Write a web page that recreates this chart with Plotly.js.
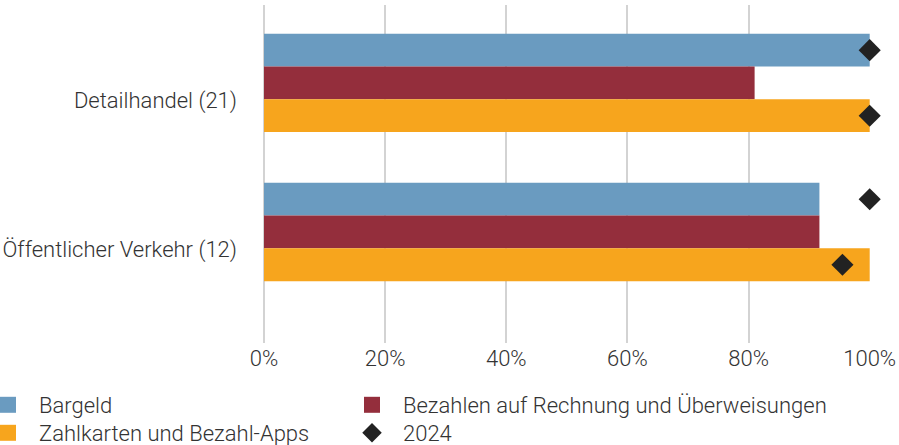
<!DOCTYPE html>
<html>
<head>
<meta charset="utf-8">
<script src="https://cdn.plot.ly/plotly-3.0.1.min.js"></script>
<style>html,body{margin:0;padding:0;background:#fff;}#chart{width:899px;height:445px;}</style>
</head>
<body>
<div id="chart"></div>
<script>
const categories = ["Detailhandel (21)", "Öffentlicher Verkehr (12)"];
const seriesNames = ["Bargeld", "Bezahlen auf Rechnung und Überweisungen", "Zahlkarten und Bezahl-Apps"];
const markerName = "2024";
const bargeld = [100, 91.7];
const rechnung = [81.0, 91.7];
const zahlkarten = [100, 100];
const prev2024Bargeld = [100, 100];
const prev2024Zahlkarten = [100, 95.5];
const xTicks = [0, 20, 40, 60, 80, 100];

const colors = ["#6A9BC0", "#942E3C", "#F7A51D"];
const diamondColor = "#222222";
const gridColor = "#d3d3d3";
const font = {family: "Roboto, 'Open Sans', sans-serif", size: 22, color: "#333333", weight: 300};
const idx = categories.map((c, i) => i);
const barW = 0.22;

const traces = [];
[bargeld, rechnung, zahlkarten].forEach((vals, k) => {
  traces.push({
    type: "bar", orientation: "h", x: vals, y: idx, name: seriesNames[k],
    marker: {color: colors[k]}, showlegend: false
  });
});
traces.push({
  type: "scatter", mode: "markers", x: prev2024Bargeld, y: idx.map(i => i - barW),
  name: markerName, marker: {symbol: "diamond", size: 17, color: diamondColor}, showlegend: false, cliponaxis: false
});
traces.push({
  type: "scatter", mode: "markers", x: prev2024Zahlkarten, y: idx.map(i => i + barW),
  name: markerName, marker: {symbol: "diamond", size: 17, color: diamondColor}, showlegend: false, cliponaxis: false
});
// legend entries (one legend box per entry for exact placement)
const legendItems = [
  {name: seriesNames[0], color: colors[0], symbol: "square", size: 16, legend: "legend", col: 0, row: 0},
  {name: seriesNames[1], color: colors[1], symbol: "square", size: 16, legend: "legend2", col: 1, row: 0},
  {name: seriesNames[2], color: colors[2], symbol: "square", size: 16, legend: "legend3", col: 0, row: 1},
  {name: markerName, color: diamondColor, symbol: "diamond", size: 15, legend: "legend4", col: 1, row: 1}
];
legendItems.forEach(it => {
  traces.push({
    type: "scatter", mode: "markers", x: [null], y: [null], name: it.name,
    marker: {symbol: it.symbol, size: it.size, color: it.color}, showlegend: true, legend: it.legend
  });
});

const W = 899, H = 445, mL = 264, mR = 29;
const plotW = W - mL - mR;
const colX = [-23, 341];
const rowY = [384, 412];
const legendBase = {
  orientation: "v", xref: "paper", xanchor: "left",
  yref: "container", yanchor: "top",
  traceorder: "normal", font: font, itemsizing: "trace", itemwidth: 52,
  bgcolor: "rgba(0,0,0,0)", borderwidth: 0
};

const layout = {
  width: W, height: H,
  margin: {l: mL, r: mR, t: 5, b: 102, autoexpand: false},
  paper_bgcolor: "#ffffff", plot_bgcolor: "#ffffff",
  font: font,
  barmode: "group", bargap: 0.34, bargroupgap: 0,
  showlegend: true,
  xaxis: {
    range: [0, 100.05], tickvals: xTicks, ticktext: xTicks.map(v => v + "%"),
    showgrid: true, gridcolor: gridColor, gridwidth: 2,
    zeroline: true, zerolinecolor: gridColor, zerolinewidth: 2,
    showline: false, ticks: "", fixedrange: true, tickfont: font, automargin: false
  },
  yaxis: {
    range: [1.745, -0.523], tickvals: idx.map(i => i + 0.117), ticktext: categories,
    showgrid: false, zeroline: false, showline: false, ticks: "",
    ticklabelstandoff: 26, tickfont: font, automargin: false
  }
};
legendItems.forEach(it => {
  layout[it.legend] = Object.assign({}, legendBase, {
    x: (colX[it.col] - mL) / plotW, y: 1 - rowY[it.row] / H
  });
});

Plotly.newPlot("chart", traces, layout, {displayModeBar: false, staticPlot: true});
</script>
</body>
</html>
